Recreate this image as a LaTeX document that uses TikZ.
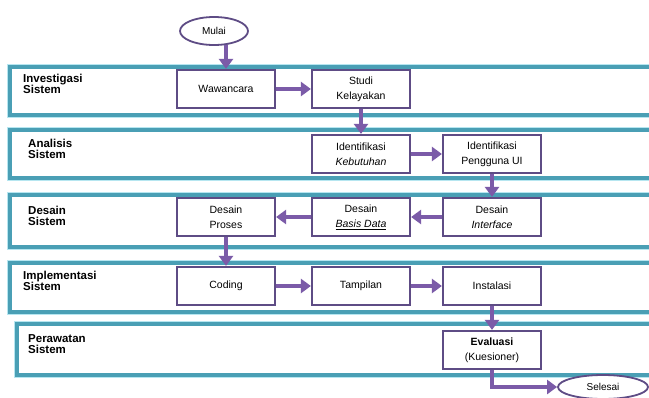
\documentclass[tikz,border=0pt]{standalone}
\usepackage{fontspec}
\setmainfont{Liberation Sans}
\usetikzlibrary{arrows.meta,shapes.geometric}
\definecolor{bandc}{HTML}{4A9FB5}
\definecolor{bandl}{HTML}{B6E6F0}
\definecolor{boxc}{HTML}{5E4C85}
\definecolor{arrc}{HTML}{7B5BA8}
\begin{document}
\begin{tikzpicture}[x=1pt,y=-1pt,
  bandouter/.style={draw=bandl,line width=1.6pt},
  bandline/.style={draw=bandc,line width=3.6pt},
  phase/.style={anchor=north west,align=left,font=\bfseries\fontsize{11.5}{11}\selectfont,inner sep=0pt},
  stepbox/.style={draw=boxc,line width=2.2pt,fill=white,minimum width=98pt,minimum height=38pt,align=center,font=\fontsize{10.5}{15}\selectfont,inner sep=1pt},
  term/.style={draw=boxc,line width=1.8pt,ellipse,fill=white,font=\fontsize{10}{10}\selectfont,inner sep=0pt},
  flow/.style={draw=arrc,line width=4pt,-{Triangle[width=14pt,length=10pt]}}
]
\useasboundingbox (0,0) rectangle (649,397);
\fill[white] (0,0) rectangle (649,397);
% bands
\foreach \xa/\ya/\yb in {10/67/115, 10/130/178, 10/195/247, 10/263/312, 17/324/375}{
  \draw[bandouter] (\xa-2.6,\ya-2.6) rectangle (660,\yb+2.6);
  \draw[bandline] (\xa,\ya) rectangle (660,\yb);
}
% phase labels
\node[phase] (p1) at (23,74) {Investigasi\\Sistem};
\node[phase] (p2) at (28,139) {Analisis\\Sistem};
\node[phase] (p3) at (28,206) {Desain\\Sistem};
\node[phase] (p4) at (23,271) {Implementasi\\Sistem};
\node[phase] (p5) at (28,334) {Perawatan\\Sistem};
% terminals
\node[term,minimum width=68pt,minimum height=28pt] (mulai) at (214,31) {Mulai};
\node[term,minimum width=90pt,minimum height=24pt] (selesai) at (603,387) {Selesai};
% steps
\node[stepbox] (waw) at (226,89) {Wawancara};
\node[stepbox] (studi) at (361,89) {Studi\\Kelayakan};
\node[stepbox] (keb) at (361,154) {Identifikasi\\\textit{Kebutuhan}};
\node[stepbox] (peng) at (492,154) {Identifikasi\\Pengguna UI};
\node[stepbox] (intf) at (492,217) {Desain\\\textit{Interface}};
\node[stepbox] (basis) at (361,217) {Desain\\\underline{\textit{Basis Data}}};
\node[stepbox] (proses) at (226,217) {Desain\\Proses};
\node[stepbox] (coding) at (226,286) {Coding};
\node[stepbox] (tamp) at (361,286) {Tampilan};
\node[stepbox] (inst) at (492,286) {Instalasi};
\node[stepbox] (eval) at (492,350) {\textbf{Evaluasi}\\(Kuesioner)};
% connectors
\draw[flow] (waw.north |- mulai.south) ++(0,-1) -- (waw.north);
\draw[flow] (waw) -- (studi);
\draw[flow] (studi) -- (keb);
\draw[flow] (keb) -- (peng);
\draw[flow] (peng) -- (intf);
\draw[flow] (intf) -- (basis);
\draw[flow] (basis) -- (proses);
\draw[flow] (proses) -- (coding);
\draw[flow] (coding) -- (tamp);
\draw[flow] (tamp) -- (inst);
\draw[flow] (inst) -- (eval);
\draw[flow] (eval.south) |- (selesai.west);
\end{tikzpicture}
\end{document}
